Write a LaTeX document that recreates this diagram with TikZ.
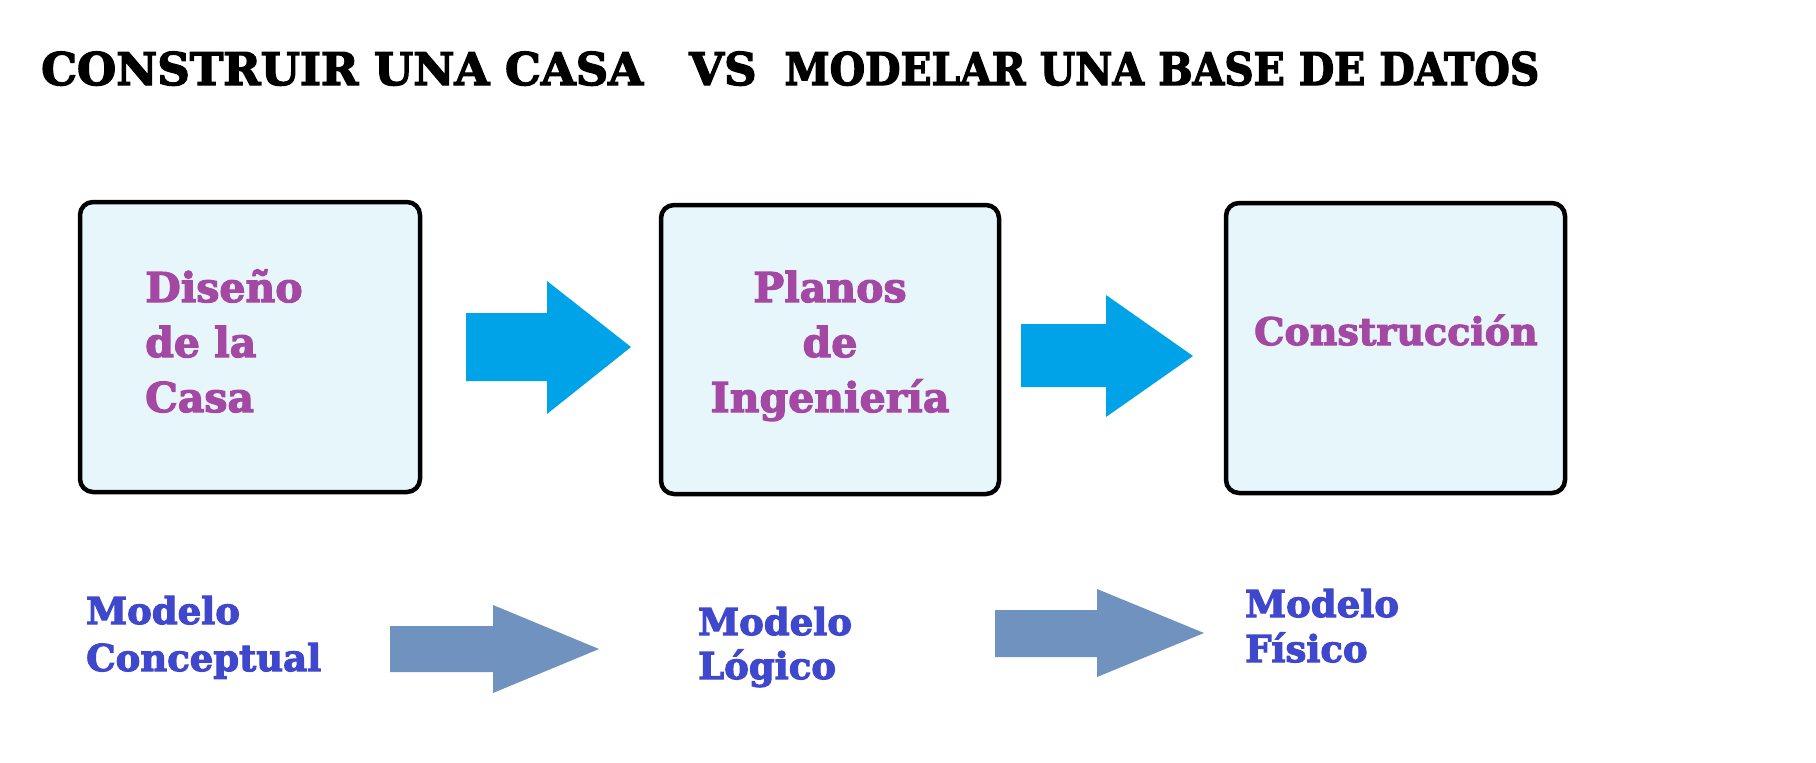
\documentclass[tikz,border=0pt]{standalone}
\usepackage{fontspec}
\setmainfont{DejaVu Serif}
\newfontfamily\heavyfont[FakeBold=3]{DejaVu Serif Bold}
\definecolor{boxfill}{HTML}{E7F6FB}
\definecolor{turq}{HTML}{00A2E8}
\definecolor{bluegray}{HTML}{7092BE}
\definecolor{stagetext}{HTML}{A349A4}
\definecolor{modeltext}{HTML}{3F48CC}
\begin{document}
\begin{tikzpicture}[x=1pt,y=-1pt,
  stagebox/.style={draw=black,line width=4.5pt,rounded corners=13pt,fill=boxfill},
  bigarrow/.style={fill=turq,draw=none},
  modelarrow/.style={fill=bluegray,draw=none},
  titletext/.style={inner sep=0pt,anchor=base west,font=\heavyfont\fontsize{45}{54}\selectfont},
  stagelabel/.style={inner sep=0pt,text=stagetext,font=\heavyfont\fontsize{41}{55}\selectfont},
  modellabel/.style={inner sep=0pt,anchor=base west,align=left,text=modeltext}]
\useasboundingbox (0,0) rectangle (1816,763);

% title line
\node[titletext] (t1) at (41,85) {CONSTRUIR UNA CASA};
\node[titletext] (t2) at (689,85) {VS\hspace{28pt}\scalebox{0.905}[1]{MODELAR UNA BASE DE DATOS}};

% stage boxes
\draw[stagebox] (80,202) rectangle (420,492);
\draw[stagebox] (661,205) rectangle (999,494);
\draw[stagebox] (1226,203) rectangle (1565,493);

% stage labels (anchored on the baseline of their last line)
\node[stagelabel,anchor=base west,align=left] (s1) at (145,412) {Diseño\\de la\\Casa};
\node[stagelabel,anchor=base,align=center] (s2) at (830,412) {Planos\\de\\Ingeniería};
\node[stagelabel,anchor=base west,font=\heavyfont\fontsize{38}{46}\selectfont] (s3) at (1254,345) {Construcción};

% block arrows between stages
\fill[bigarrow] (466,313) -- (547,313) -- (547,281) -- (631,347) -- (547,414) -- (547,381) -- (466,381) -- cycle;
\fill[bigarrow] (1021,324) -- (1106,324) -- (1106,295) -- (1193,356) -- (1106,417) -- (1106,387) -- (1021,387) -- cycle;

% model labels
\node[modellabel,font=\heavyfont\fontsize{37}{47}\selectfont] (m1) at (86,671) {Modelo\\Conceptual};
\node[modellabel,font=\heavyfont\fontsize{37}{44}\selectfont] (m2) at (698,679) {Modelo\\Lógico};
\node[modellabel,font=\heavyfont\fontsize{37}{45}\selectfont] (m3) at (1245,662) {Modelo\\Físico};

% block arrows between models
\fill[modelarrow] (390,626) -- (493,626) -- (493,605) -- (599,649) -- (493,693) -- (493,672) -- (390,672) -- cycle;
\fill[modelarrow] (995,610) -- (1097,610) -- (1097,589) -- (1204,633) -- (1097,677) -- (1097,657) -- (995,657) -- cycle;
\end{tikzpicture}
\end{document}
